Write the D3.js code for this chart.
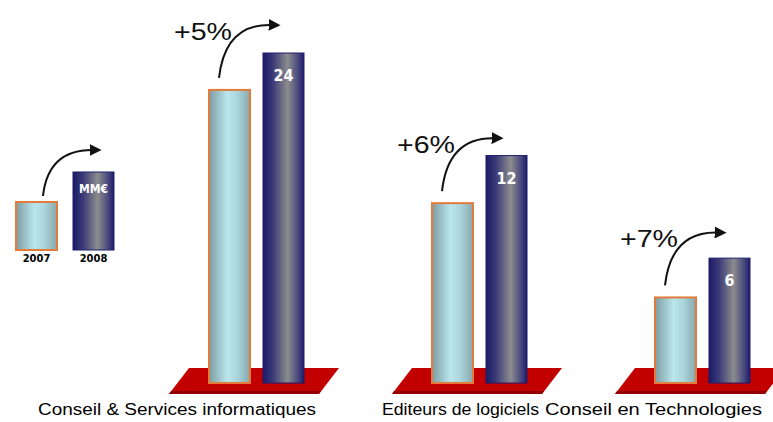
<!DOCTYPE html>
<html><head><meta charset="utf-8">
<script src="https://cdn.jsdelivr.net/npm/d3@7/dist/d3.min.js"></script>
<style>body{margin:0;background:#fff}svg{display:block}</style>
</head><body>
<svg id="c" width="773" height="422"></svg>
<script>
const categories = ["Conseil & Services informatiques", "Editeurs de logiciels", "Conseil en Technologies"];
const years = ["2007", "2008"];
const values2007 = [18.7, 8.7, 4.6];
const values2008 = [24, 12, 6];
const growthLabels = ["+5%", "+6%", "+7%"];
const unitLabel = "MM€";
const labelWidths = [278, 157, 217];

const svg = d3.select("#c");
const defs = svg.append("defs");

function hGrad(id, stops) {
  const g = defs.append("linearGradient").attr("id", id).attr("x1", 0).attr("x2", 1).attr("y1", 0).attr("y2", 0);
  stops.forEach(s => g.append("stop").attr("offset", s[0]).attr("stop-color", s[1]));
}
hGrad("g07", [[0, "#7e9ca3"], [0.45, "#b9e6ec"], [0.7, "#a9d4da"], [1, "#86a8ae"]]);
hGrad("g08", [[0, "#1b1a68"], [0.25, "#3c3c78"], [0.6, "#8c8c8e"], [0.85, "#4a4a7e"], [1, "#1c1b6a"]]);

defs.append("marker").attr("id", "ah").attr("viewBox", "0 0 10 10").attr("refX", 2).attr("refY", 5)
  .attr("markerWidth", 6).attr("markerHeight", 6).attr("orient", "auto").attr("markerUnits", "strokeWidth")
  .append("path").attr("d", "M0,0 L10,5 L0,10 z").attr("fill", "#111");

const x = d3.scaleBand().domain(categories).range([209, 209 + 3 * 223]);
const xi = d3.scaleBand().domain(years).range([0, 95]).paddingInner(0.2407);
const y = d3.scaleLog().domain([2.58, 24]).range([383, 53]);

const data = categories.map((c, i) => ({ c, i, v07: values2007[i], v08: values2008[i], g: growthLabels[i] }));

const grp = svg.selectAll("g.grp").data(data).join("g").attr("class", "grp")
  .attr("transform", d => `translate(${x(d.c)},0)`);

// platform
grp.append("path")
  .attr("d", "M-20,368 L130,368 L110,394 L-40,394 Z")
  .attr("fill", "#c30000");
grp.append("path")
  .attr("d", "M-38,391 L112,391 L110,394 L-40,394 Z")
  .attr("fill", "#930000");

// bars 2007
grp.append("rect")
  .attr("x", xi("2007")).attr("width", xi.bandwidth())
  .attr("y", d => y(d.v07)).attr("height", d => y.range()[0] - y(d.v07))
  .attr("fill", "url(#g07)").attr("stroke", "#e27c3a").attr("stroke-width", 2);
// bars 2008
grp.append("rect")
  .attr("x", xi("2008")).attr("width", xi.bandwidth())
  .attr("y", d => y(d.v08)).attr("height", d => y.range()[0] - y(d.v08))
  .attr("fill", "url(#g08)").attr("stroke", "#1e1d6c").attr("stroke-width", 1);

// value labels
grp.append("text")
  .attr("x", xi("2008") + xi.bandwidth() / 2).attr("y", d => y(d.v08) + 28)
  .attr("text-anchor", "middle").attr("fill", "#fff")
  .attr("font-family", "'Liberation Sans Narrow','DejaVu Sans Condensed',Arial,sans-serif")
  .attr("font-weight", "bold").attr("font-size", 16)
  .text(d => d.v08);

// arrows
grp.append("path")
  .attr("d", d => {
    const sx = xi("2007") + 10, sy = y(d.v07) - 12;
    const tx = xi("2008") + 8, ty = y(d.v07) - 65;
    return `M${sx},${sy} Q${sx + 6},${ty - 1} ${tx},${ty}`;
  })
  .attr("fill", "none").attr("stroke", "#111").attr("stroke-width", 2).attr("marker-end", "url(#ah)");

// growth labels
grp.append("text")
  .attr("x", xi("2007") + 23).attr("y", d => y(d.v07) - 50)
  .attr("text-anchor", "end").attr("fill", "#111")
  .attr("font-family", "'Liberation Sans',Arial,sans-serif").attr("font-size", 23)
  .attr("textLength", 58).attr("lengthAdjust", "spacingAndGlyphs")
  .text(d => d.g);

// category labels
grp.append("text")
  .attr("x", 107).attr("y", 415)
  .attr("text-anchor", "end").attr("fill", "#000")
  .attr("font-family", "'Liberation Sans',Arial,sans-serif").attr("font-size", 16)
  .attr("textLength", d => labelWidths[d.i]).attr("lengthAdjust", "spacingAndGlyphs")
  .text(d => d.c);

// legend
const lg = svg.append("g");
lg.append("rect").attr("x", 16).attr("y", 202).attr("width", 41).attr("height", 48)
  .attr("fill", "url(#g07)").attr("stroke", "#e27c3a").attr("stroke-width", 2);
lg.append("rect").attr("x", 73).attr("y", 172).attr("width", 41).attr("height", 78)
  .attr("fill", "url(#g08)").attr("stroke", "#1e1d6c").attr("stroke-width", 1);
lg.append("text").attr("x", 93.5).attr("y", 193).attr("text-anchor", "middle").attr("fill", "#fff")
  .attr("font-family", "'Liberation Sans Narrow','DejaVu Sans Condensed',Arial,sans-serif")
  .attr("font-weight", "bold").attr("font-size", 12).text(unitLabel);
lg.selectAll("text.yr").data(years).join("text").attr("class", "yr")
  .attr("x", (d, i) => i === 0 ? 36.5 : 93.5).attr("y", 262).attr("text-anchor", "middle")
  .attr("font-family", "'Liberation Sans Narrow','DejaVu Sans Condensed',Arial,sans-serif")
  .attr("font-weight", "bold").attr("font-size", 11).attr("fill", "#000").text(d => d);
lg.append("path").attr("d", "M43,196 Q48,150 92,150")
  .attr("fill", "none").attr("stroke", "#111").attr("stroke-width", 2).attr("marker-end", "url(#ah)");
</script>
</body></html>
